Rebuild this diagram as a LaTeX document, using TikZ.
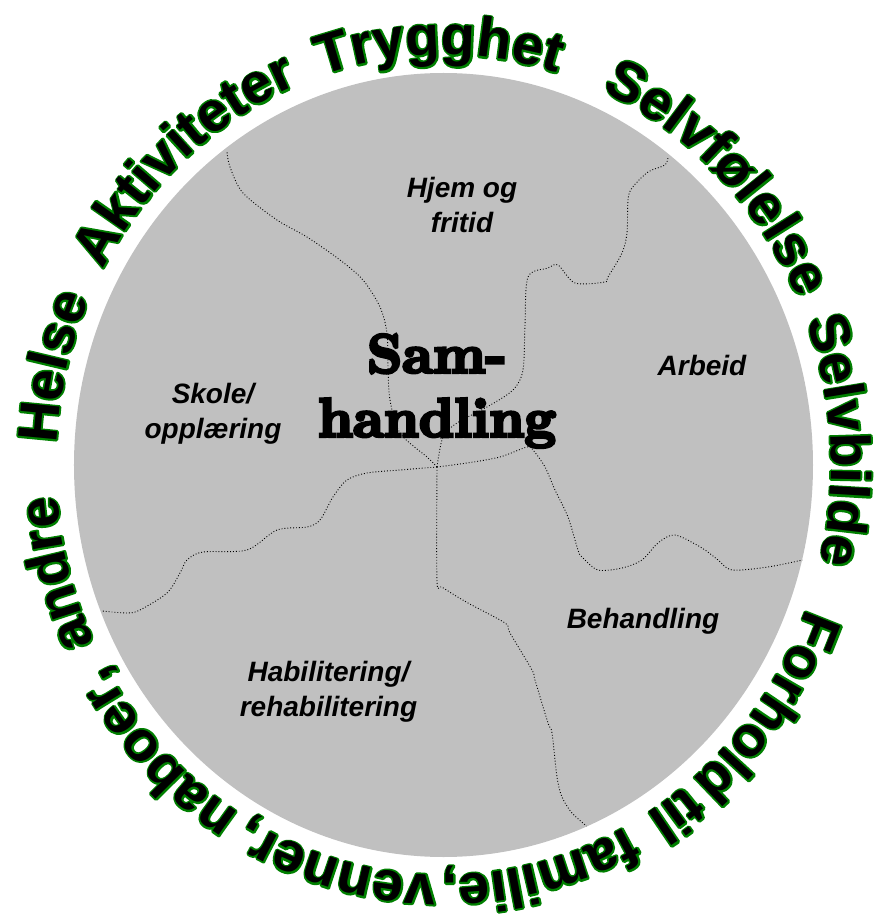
\documentclass[tikz,border=0pt]{standalone}
\usepackage{fontspec}
\usetikzlibrary{decorations.text}

\newfontfamily\ringfont{Liberation Sans}
\newfontfamily\samfamily{lmroman10-bold.otf}
\definecolor{diskgray}{RGB}{192,192,192}

\newcommand\ringstyle{\ringfont\bfseries\fontsize{56}{60}\selectfont}
\newcommand\areafont{\ringfont\bfseries\itshape\fontsize{28}{35}\selectfont}
\newcommand\samfont{\samfamily\fontsize{55}{64}\selectfont}
% green rim (stroke only), then the black letters on top
\newcommand\ringrim{\special{pdf:literal direct 1 Tr 3.6 w 1 j 0 0.5 0 RG}}
\newcommand\ringfill{\special{pdf:literal direct 0 Tr}}
% heavier black letters for the centre
\newcommand\samrim{\special{pdf:literal direct 2 Tr 3 w 0 G}}

% one word on the outer ring, clockwise from angle #1
\newcommand\ringword[2]{%
  \path[ringtext, decoration={text={|\ringstyle\ringrim|#2}}]
    (#1:387.5pt and 410pt)
    arc[start angle=#1, delta angle=-80, x radius=387.5pt, y radius=410pt];
  \path[ringtext, decoration={text={|\ringstyle\ringfill|#2}}]
    (#1:387.5pt and 410pt)
    arc[start angle=#1, delta angle=-80, x radius=387.5pt, y radius=410pt];
}

\begin{document}
\begin{tikzpicture}[x=1pt, y=1pt,
    ringtext/.style={decorate, decoration={text along path, text align=left}},
    border/.style={black, dotted, line width=0.9pt},
    area/.style={font=\areafont, align=center, inner sep=0pt}]
  \useasboundingbox (-443.5,-456) rectangle (431.5,465);

  %%%%% THE DISK
  \fill[diskgray] (0,0) ellipse [x radius=369.5pt, y radius=392pt];
  \coordinate (hub) at (-6.5,-2);

  %%%%% BORDERS BETWEEN THE AREAS
  \draw[border] plot[smooth, tension=0.5] coordinates {(hub) (-16.5,8) (-43.5,32)
    (-53.5,65) (-55.5,98) (-56.5,132) (-63.5,158) (-80.5,185) (-103.5,205)
    (-136.5,228) (-166.5,245) (-200.5,272) (-213.5,298) (-216.5,313)};
  \draw[border] plot[smooth, tension=0.5] coordinates {(hub) (-0.5,28) (13.5,42)
    (43.5,58) (69.5,75) (79.5,95) (81.5,140) (84.5,188) (104.5,197) (114.5,200)
    (131.5,182) (161.5,183) (164.5,188) (178.5,212) (183.5,232) (184.5,265)
    (188.5,277) (204.5,293) (221.5,300) (224.5,308)};
  \draw[border] plot[smooth, tension=0.5] coordinates {(hub) (23.5,2) (56.5,8)
    (83.5,18) (89.5,15) (101.5,-2) (111.5,-25) (124.5,-52) (134.5,-85)
    (138.5,-92) (154.5,-105) (178.5,-103) (198.5,-95) (214.5,-78) (231.5,-70)
    (258.5,-83) (274.5,-95) (288.5,-105) (324.5,-102) (359,-95)};
  \draw[border] plot[smooth, tension=0.5] coordinates {(hub) (-6.5,-115)
    (-1.5,-122) (24.5,-138) (61.5,-158) (66.5,-168) (88.5,-205) (91.5,-215)
    (104.5,-258) (108.5,-268) (113.5,-312) (118.5,-332) (128.5,-348) (143,-361)};
  \draw[border] plot[smooth, tension=0.5] coordinates {(hub) (-43.5,-5) (-76.5,-8)
    (-96.5,-15) (-110.5,-32) (-123.5,-55) (-136.5,-62) (-166.5,-65) (-196.5,-85)
    (-240.5,-87) (-256.5,-95) (-263.5,-108) (-276.5,-128) (-303.5,-145)
    (-316.5,-148) (-341.5,-146)};

  %%%%% THE AREAS
  \node[area] (hjem) at (18.5,259.5) {Hjem og\\fritid};
  \node[area] (arbeid) at (258.5,100) {Arbeid};
  \node[area] (skole) at (-230.5,51) {Skole/\\opplæring};
  \node[area] (behandling) at (199.5,-156.5) {Behandling};
  \node[area] (habil) at (-115,-227) {Habilitering/\\rehabilitering};
  \node[font=\samfont, text=black, align=center, inner sep=0pt] (sam) at (-6.5,74)
    {\samrim Sam-\\handling\ringfill};

  %%%%% THE OUTER RING
  \ringword{177}{Helse}
  \ringword{151.5}{Aktiviteter}
  \ringword{108.3}{Trygghet}
  \ringword{65.9}{Selvfølelse}
  \ringword{20.6}{Selvbilde}
  \ringword{-20.5}{Forhold}
  \ringword{-51.3}{til}
  \ringword{-61.8}{familie,}
  \ringword{-91}{venner,}
  \ringword{-121.8}{naboer,}
  \ringword{-154.3}{andre}
\end{tikzpicture}
\end{document}
